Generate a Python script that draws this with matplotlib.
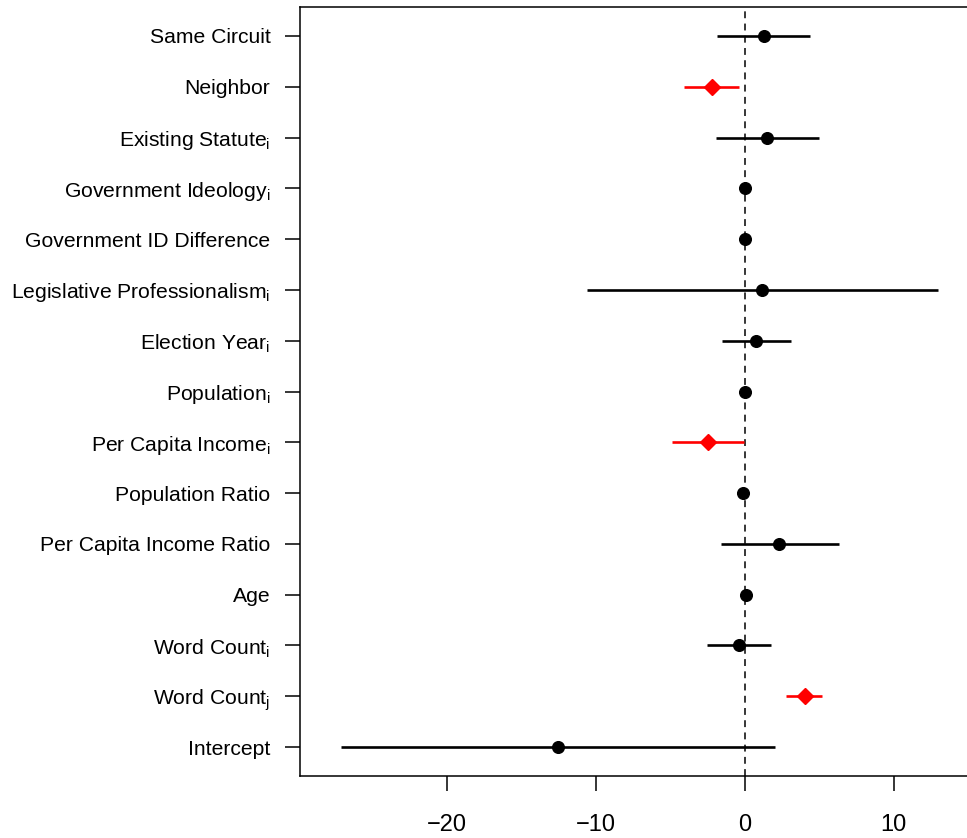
import matplotlib
matplotlib.use("Agg")
import matplotlib.pyplot as plt

plt.rcParams['font.family'] = ['Liberation Sans', 'DejaVu Sans']
plt.rcParams['mathtext.fontset'] = 'custom'
plt.rcParams['mathtext.rm'] = 'Liberation Sans'

SUB_I = r"$_\mathregular{i}$"
SUB_J = r"$_\mathregular{j}$"

labels = [
    "Same Circuit",
    "Neighbor",
    "Existing Statute" + SUB_I,
    "Government Ideology" + SUB_I,
    "Government ID Difference",
    "Legislative Professionalism" + SUB_I,
    "Election Year" + SUB_I,
    "Population" + SUB_I,
    "Per Capita Income" + SUB_I,
    "Population Ratio",
    "Per Capita Income Ratio",
    "Age",
    "Word Count" + SUB_I,
    "Word Count" + SUB_J,
    "Intercept",
]
estimates = [1.26, -2.23, 1.5, 0.0, 0.0, 1.15, 0.75, 0.0, -2.47, -0.1, 2.33, 0.05, -0.4, 4.01, -12.54]
lower = [-1.85, -4.06, -1.95, -0.1, -0.08, -10.6, -1.55, -0.05, -4.89, -0.2, -1.6, -0.05, -2.53, 2.8, -27.08]
upper = [4.39, -0.4, 5.0, 0.1, 0.08, 13.0, 3.1, 0.05, -0.04, 0.0, 6.3, 0.15, 1.73, 5.2, 2.03]
significant = [False, True, False, False, False, False, False, False, True,
               False, False, False, False, True, False]

x_ticks = [-20, -10, 0, 10]

fig = plt.figure(figsize=(9.67, 8.38), dpi=100)
ax = fig.add_axes([300 / 967, 1 - 775.5 / 838, 669 / 967, 768 / 838])

n = len(labels)
ypos = list(range(n, 0, -1))

ax.axvline(0, color="black", lw=1.1, ls=(0, (4.5, 3.5)), zorder=1)

for y, est, lo, hi, sig in zip(ypos, estimates, lower, upper, significant):
    col = "#ff0000" if sig else "black"
    ax.plot([lo, hi], [y, y], color=col, lw=1.9, solid_capstyle="butt", zorder=2)
    if sig:
        ax.plot(est, y, marker="D", ms=8.4, color=col, mec=col, zorder=3)
    else:
        ax.plot(est, y, marker="o", ms=8.4, color=col, mec=col, zorder=3)

ax.set_ylim(0.44, n + 0.56)
ax.set_xlim(-29.85, 15.05)
ax.set_yticks(ypos)
ax.set_yticklabels(labels)
ax.set_xticks(x_ticks)
ax.set_xticklabels([("\u2212" + str(-t)) if t < 0 else str(t) for t in x_ticks])

ax.tick_params(axis="y", length=10.8, width=1.1, pad=10.5, labelsize=15.2)
ax.tick_params(axis="x", length=10.8, width=1.1, pad=17, labelsize=17)
for s in ax.spines.values():
    s.set_linewidth(1.1)

fig.savefig("out.png", dpi=100)
